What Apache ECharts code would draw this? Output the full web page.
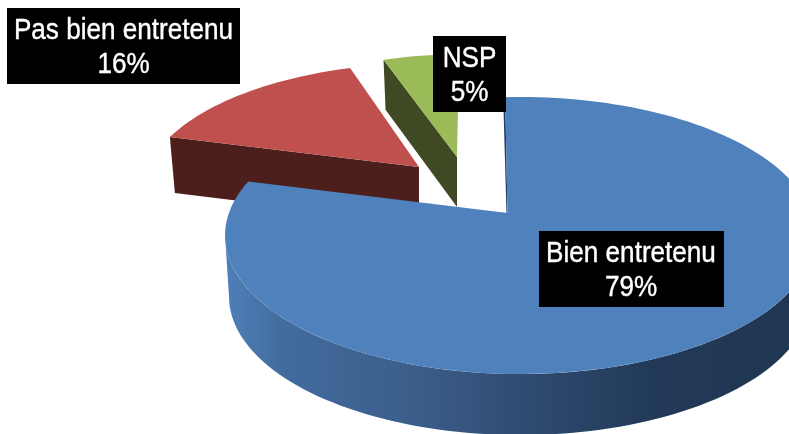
<!DOCTYPE html>
<html>
<head>
<meta charset="utf-8">
<style>
    html, body { margin: 0; padding: 0; background: #fff; }
    #main { width: 789px; height: 434px; }
</style>
<script src="https://cdn.jsdelivr.net/npm/echarts@6/dist/echarts.min.js"></script>
</head>
<body>
<div id="main"></div>
<script>
const categories = ['Bien entretenu', 'Pas bien entretenu', 'NSP'];
const shares = [79, 16, 5];

// where each exploded slice sits: apex, ellipse of its rim (relative to apex)
const sliceLayout = [
    {apex: [507.5, 213], offset: [12.5, 22.5], rx: 295, ry: 138.5, ratio: 2.09, lean: -0.02, depth: 61, shift: 0, z: 3, top: '#4f81bd'},
    {apex: [419, 167], offset: [10, 23], rx: 285, ry: 127, ratio: 2.14, lean: 0, depth: 56, shift: 5, z: 2, top: '#c0504d', side: '#4d1f1c'},
    {apex: [457, 157], offset: [10, 24], rx: 280, ry: 127, ratio: 2.39, lean: 0.02, depth: 50, shift: 2, z: 1, top: '#9bbb59', side: '#3f4a24'}
];
const labelLayout = [
    {box: [539, 231, 185, 76], at: [631, 271]},
    {box: [7, 8, 233, 76], at: [123.5, 48]},
    {box: [433, 36, 73, 76], at: [469.5, 76]}
];
const total = shares.reduce((a, b) => a + b, 0);

// point of the rim reached from the apex in direction of angle deg (clockwise from top)
function rimPoint(s, deg) {
    const rad = deg * Math.PI / 180;
    const dirX = Math.sin(rad) * s.ratio + s.lean;
    const dx = dirX / s.rx;
    const dy = -Math.cos(rad) / s.ry;
    const ox = -s.offset[0] / s.rx;
    const oy = -s.offset[1] / s.ry;
    const a = dx * dx + dy * dy;
    const b = 2 * (ox * dx + oy * dy);
    const c = ox * ox + oy * oy - 1;
    const t = (-b + Math.sqrt(b * b - 4 * a * c)) / (2 * a);
    return [s.apex[0] + t * dirX, s.apex[1] - t * Math.cos(rad)];
}

function startAngle(idx) {
    let sum = 0;
    for (let i = 0; i < idx; i++) {
        sum += shares[i];
    }
    return sum / total * 360;
}

function renderSlice(params, api) {
    const idx = params.dataIndex;
    const value = api.value(0);
    const s = sliceLayout[idx];
    const lab = labelLayout[idx];
    const from = startAngle(idx);
    const to = from + value / total * 360;
    const children = [];

    if (idx === 0) {
        // round wall of the big slice: lower half of rim, pushed down by depth
        const cx = s.apex[0] + s.offset[0];
        const cy = s.apex[1] + s.offset[1];
        const wall = [];
        for (let a = 180; a >= 0; a -= 2) {
            const r = a * Math.PI / 180;
            wall.push([cx + (s.rx - 4) * Math.cos(r), cy + s.ry * Math.sin(r) + s.depth]);
        }
        for (let a = 0; a <= 180; a += 2) {
            const r = a * Math.PI / 180;
            wall.push([cx + s.rx * Math.cos(r), cy + s.ry * Math.sin(r)]);
        }
        children.push({
            type: 'polygon',
            z2: s.z,
            shape: {points: wall},
            style: {
                fill: new echarts.graphic.LinearGradient(0, 0, 1, 0, [
                    {offset: 0, color: '#4f7fb8'},
                    {offset: 0.1, color: '#426c9e'},
                    {offset: 0.35, color: '#3a5b87'},
                    {offset: 0.52, color: '#2e4a6f'},
                    {offset: 0.72, color: '#223a59'},
                    {offset: 1, color: '#1f3550'}
                ])
            }
        });
        // thin cut face along the start of the slice
        const edge = rimPoint(s, from);
        children.push({
            type: 'polygon',
            z2: s.z,
            shape: {points: [edge, [edge[0] - 2, edge[1]], [s.apex[0] - 1, s.apex[1]], s.apex]},
            style: {fill: '#1f3a5f'}
        });
    } else {
        // cut face turned towards the viewer
        const corner = rimPoint(s, from);
        children.push({
            type: 'polygon',
            z2: s.z,
            shape: {points: [
                corner,
                s.apex,
                [s.apex[0], s.apex[1] + s.depth],
                [corner[0] + s.shift, corner[1] + s.depth]
            ]},
            style: {fill: s.side}
        });
    }

    const face = [s.apex];
    const steps = Math.ceil((to - from) / 2);
    for (let i = 0; i <= steps; i++) {
        face.push(rimPoint(s, from + (to - from) * i / steps));
    }
    children.push({
        type: 'polygon',
        z2: s.z + 0.5,
        shape: {points: face},
        style: {fill: s.top}
    });

    children.push({
        type: 'rect',
        z2: 10,
        shape: {x: lab.box[0], y: lab.box[1], width: lab.box[2], height: lab.box[3]},
        style: {fill: '#000'}
    });
    children.push({
        type: 'text',
        z2: 11,
        x: lab.at[0],
        y: lab.at[1],
        scaleX: 0.9,
        style: {
            text: categories[idx] + '\n' + value + '%',
            fill: '#fff',
            stroke: '#fff',
            lineWidth: 0.4,
            font: '29px "Liberation Sans"',
            lineHeight: 34,
            align: 'center',
            verticalAlign: 'middle'
        }
    });

    return {type: 'group', children: children};
}

const myChart = echarts.init(document.getElementById('main'), null, {renderer: 'canvas'});
myChart.setOption({
    animation: false,
    backgroundColor: '#fff',
    series: [{
        type: 'custom',
        coordinateSystem: 'none',
        renderItem: renderSlice,
        data: shares.map((v, i) => ({name: categories[i], value: [v]}))
    }]
});
</script>
</body>
</html>
